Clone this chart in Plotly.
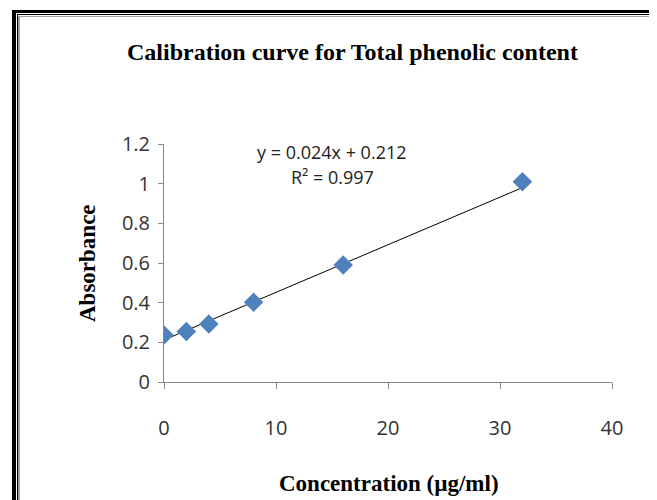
import plotly.graph_objects as go

conc = [0, 2, 4, 8, 16, 32]
absorb = [0.237, 0.254, 0.292, 0.402, 0.59, 1.01]
slope = 0.024
intercept = 0.212
x_ticks = [0, 10, 20, 30, 40]
y_ticks = [0, 0.2, 0.4, 0.6, 0.8, 1.0, 1.2]
y_tick_text = ["0", "0.2", "0.4", "0.6", "0.8", "1", "1.2"]

# page body has an 8px margin; coordinates below are page pixels
OFF = 8
W, H = 657 - OFF, 500 - OFF
L, R, T, B = 164 - OFF, 45, 144 - OFF, 118
pw, ph = W - L - R, H - T - B

def px(x):
    return (x - OFF - L) / pw

def py(y):
    return 1 - (y - OFF - T) / ph

fit_x = [min(conc), max(conc)]
fit_y = [slope * v + intercept for v in fit_x]

fig = go.Figure()
fig.add_trace(go.Scatter(x=fit_x, y=fit_y, mode="lines",
                         line=dict(color="#000000", width=1), hoverinfo="skip"))
fig.add_trace(go.Scatter(x=conc, y=absorb, mode="markers",
                         marker=dict(symbol="diamond", size=15, color="#4F81BD",
                                     line=dict(width=0))))

tickfont = dict(family="Open Sans, Liberation Sans", size=20, color="#333333")
fig.update_xaxes(range=[0, 40], tickvals=x_ticks, showgrid=False, zeroline=False,
                 showline=True, linecolor="#868686", linewidth=1,
                 ticks="outside", ticklen=6, tickcolor="#868686",
                 tickfont=tickfont, ticklabelstandoff=22)
fig.update_yaxes(range=[0, 1.2], tickvals=y_ticks, ticktext=y_tick_text,
                 showgrid=False, zeroline=False,
                 showline=True, linecolor="#868686", linewidth=1,
                 ticks="outside", ticklen=5, tickcolor="#868686",
                 tickfont=tickfont, ticklabelstandoff=4)

serif = "Liberation Serif"
fig.add_annotation(xref="paper", yref="paper", x=px(352), y=py(52),
                   text="<b>Calibration curve for Total phenolic content</b>",
                   showarrow=False, font=dict(family=serif, size=24, color="#000"),
                   xanchor="center", yanchor="middle")
fig.add_annotation(xref="paper", yref="paper", x=px(389), y=py(483),
                   text="<b>Concentration (µg/ml)</b>",
                   showarrow=False, font=dict(family=serif, size=23, color="#000"),
                   xanchor="center", yanchor="middle")
fig.add_annotation(xref="paper", yref="paper", x=px(87), y=py(263),
                   text="<b>Absorbance</b>", textangle=-90,
                   showarrow=False, font=dict(family=serif, size=23, color="#000"),
                   xanchor="center", yanchor="middle")
eqfont = dict(family="Open Sans, Liberation Sans", size=18, color="#222")
fig.add_annotation(xref="paper", yref="paper", x=px(332), y=py(152),
                   text=f"y = {slope}x + {intercept}", showarrow=False,
                   font=eqfont, xanchor="center", yanchor="middle")
fig.add_annotation(xref="paper", yref="paper", x=px(332), y=py(177),
                   text="R² = 0.997", showarrow=False,
                   font=eqfont, xanchor="center", yanchor="middle")

# frame border
shapes = []
def rect(x0, y0, x1, y1, color):
    shapes.append(dict(type="rect", xref="paper", yref="paper",
                       x0=px(x0), x1=px(x1), y0=py(y1), y1=py(y0),
                       fillcolor=color, line=dict(width=0), layer="above"))
rect(12, 10, 16, 500, "#000")
rect(12, 10, 657, 13, "#000")
rect(17, 14, 18, 500, "#000")
rect(17, 14, 657, 15, "#000")
rect(18, 16, 20, 500, "#A0A0A0")
rect(18, 16, 657, 17, "#A0A0A0")
rect(654, 16, 656, 500, "#C8C8C8")
fig.update_layout(shapes=shapes)

fig.update_layout(width=W, height=H, margin=dict(l=L, r=R, t=T, b=B),
                  paper_bgcolor="white", plot_bgcolor="white", showlegend=False)
fig.write_html("out.html")
